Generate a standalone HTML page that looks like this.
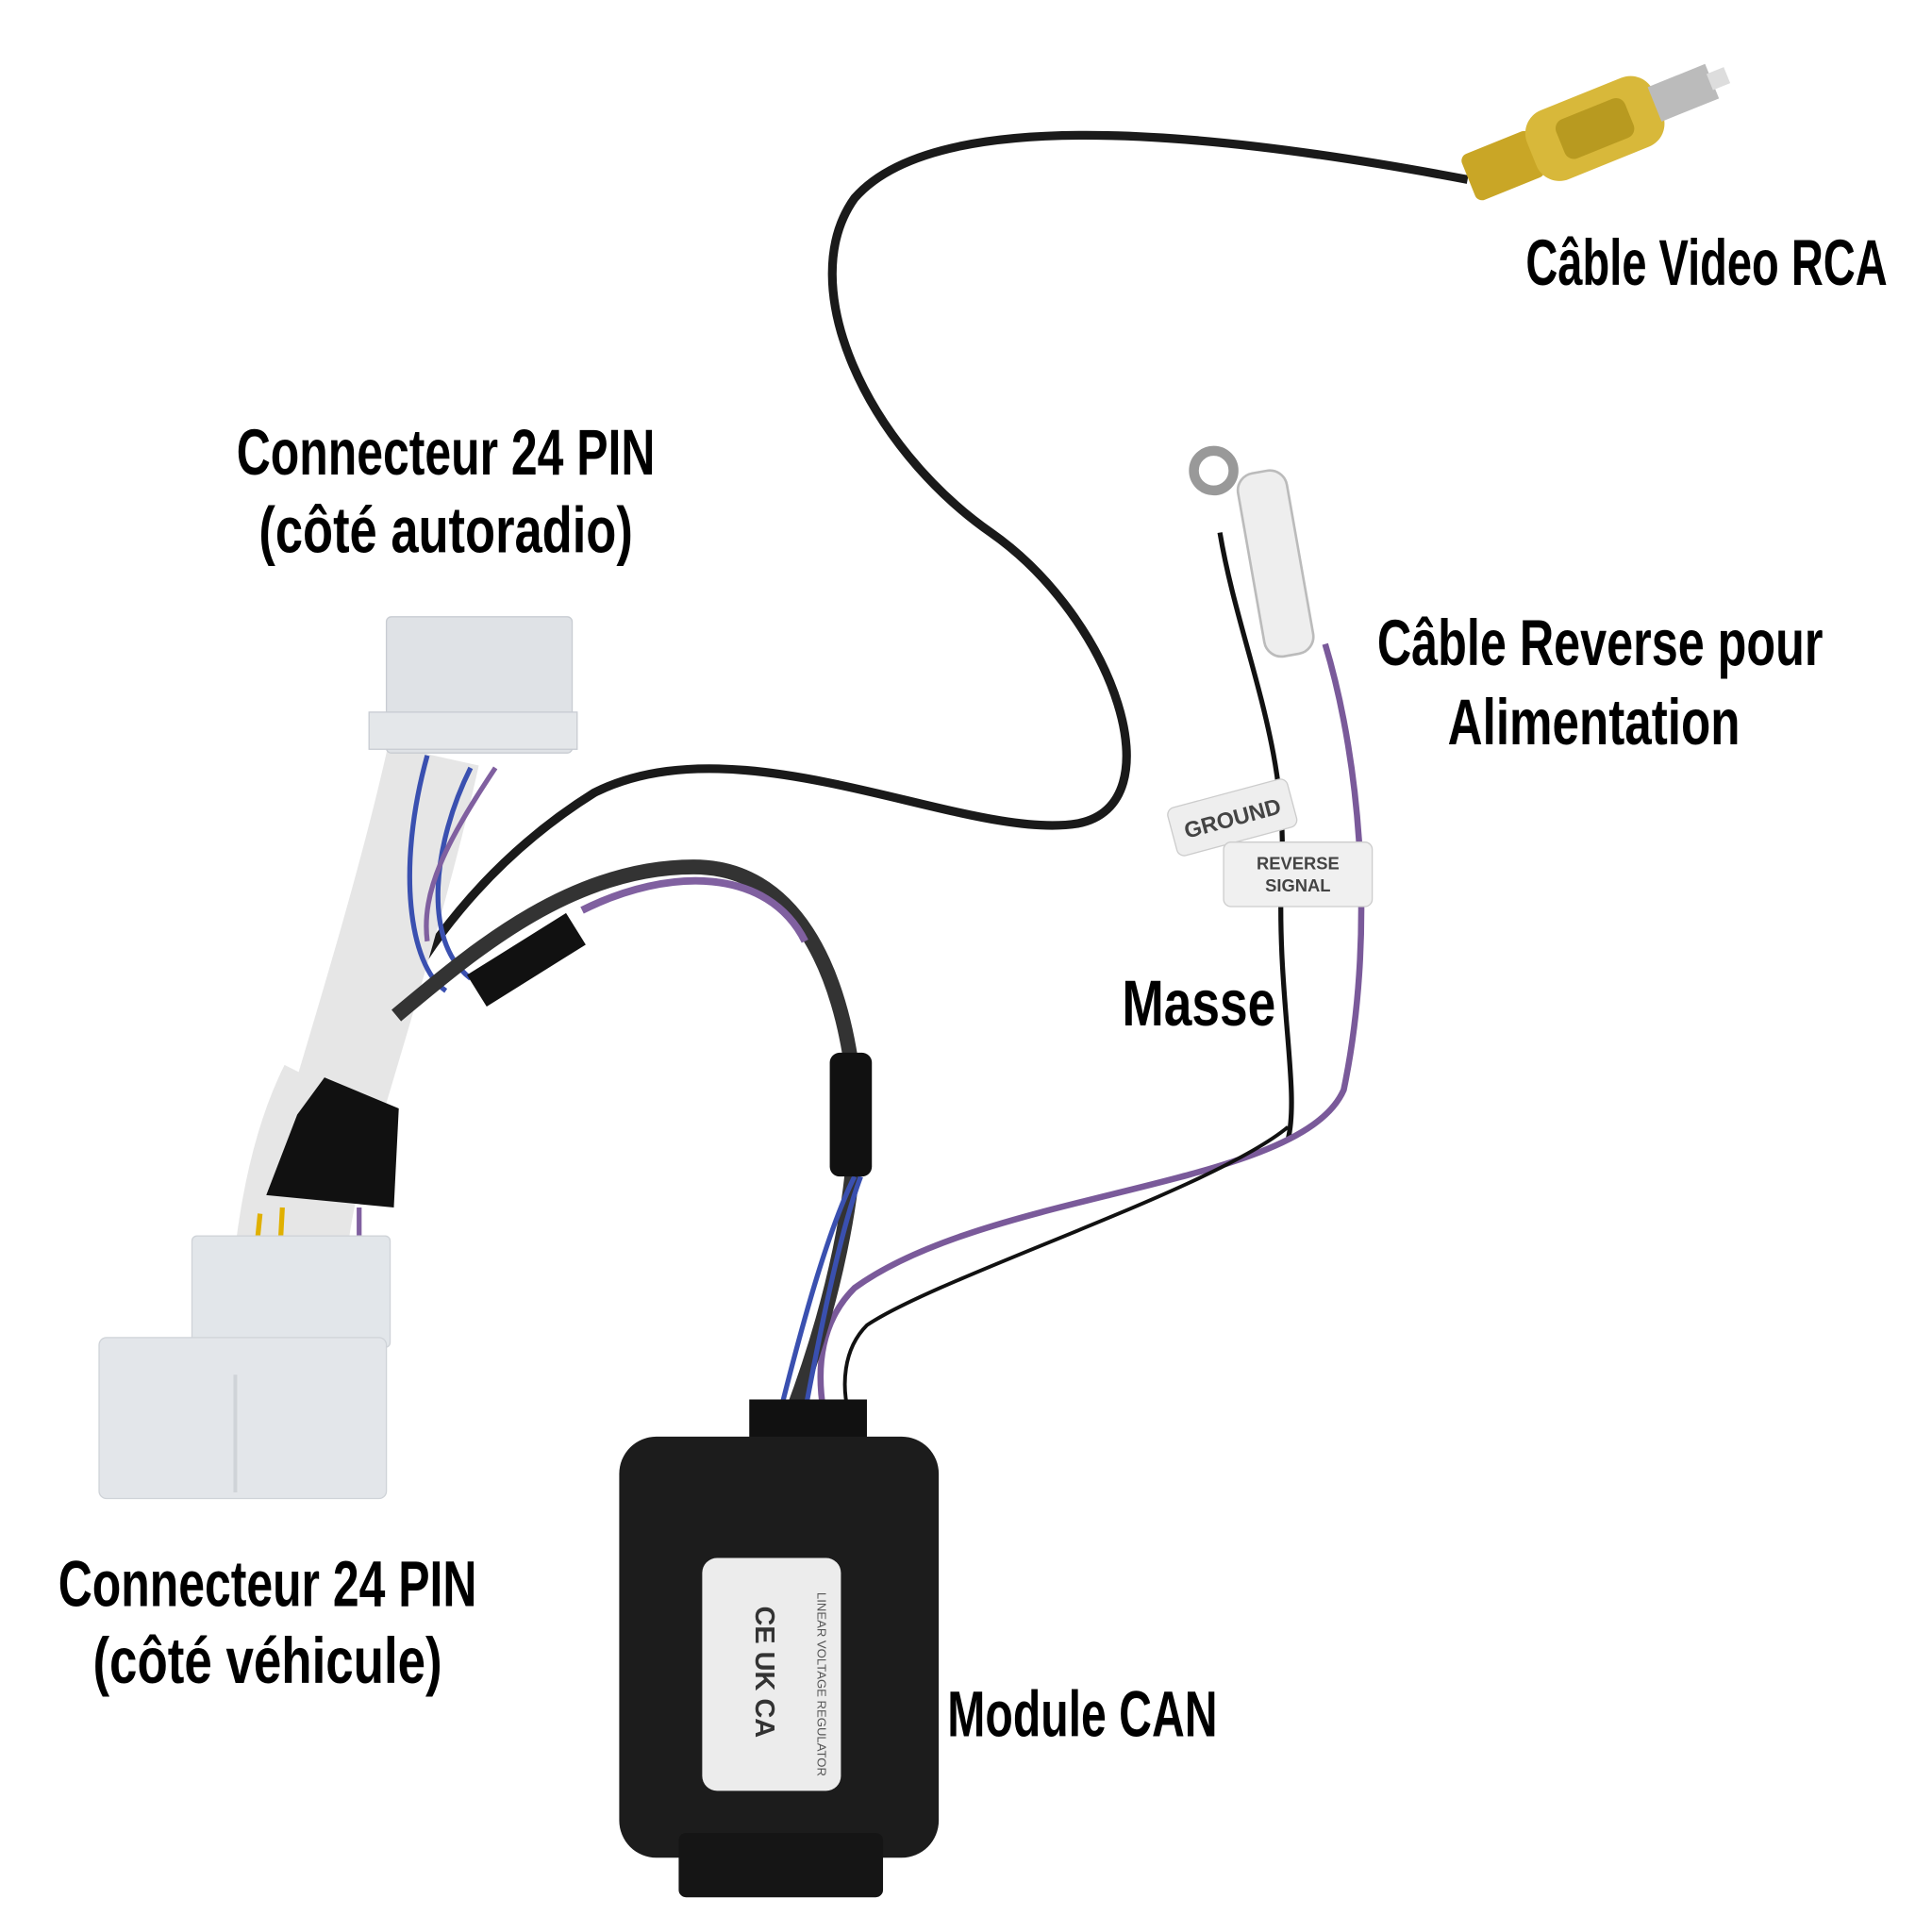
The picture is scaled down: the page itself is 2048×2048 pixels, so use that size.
<!DOCTYPE html>
<html><head><meta charset="utf-8"><style>
html,body{margin:0;padding:0;background:#fff}
svg{display:block}
.t{font-family:"Liberation Sans",sans-serif;font-weight:bold;font-size:52px;fill:#000;text-anchor:middle}
</style></head><body>
<svg width="2048" height="2048" viewBox="0 0 1560 1560" xmlns="http://www.w3.org/2000/svg">
<rect width="1560" height="1560" fill="#fff"/>
<path d="M1185 145 C1000 110 760 80 690 160 C640 230 700 360 800 430 C900 500 950 650 870 665 C780 680 600 580 480 640 C400 690 330 770 300 860" fill="none" stroke="#1a1a1a" stroke-width="7"/>
<g transform="rotate(-22 1260 115)">
<rect x="1180" y="95" width="60" height="40" rx="6" fill="#c9a626"/>
<rect x="1235" y="85" width="110" height="60" rx="20" fill="#d8b83a"/>
<rect x="1260" y="98" width="60" height="34" rx="8" fill="#b89a20"/>
<rect x="1342" y="100" width="50" height="30" fill="#bbb"/>
<rect x="1390" y="108" width="15" height="14" fill="#ddd"/>
</g>
<path d="M985 430 C1000 520 1040 600 1035 700 C1030 800 1050 880 1040 920" fill="none" stroke="#111" stroke-width="4"/>
<path d="M1070 520 C1100 620 1110 760 1085 880 C1050 960 800 960 690 1040 C660 1070 660 1110 665 1140" fill="none" stroke="#7a5a9a" stroke-width="5"/>
<path d="M1040 910 C980 960 760 1030 700 1070 C680 1090 680 1120 685 1140" fill="none" stroke="#111" stroke-width="3"/>
<circle cx="980" cy="380" r="16" fill="none" stroke="#999" stroke-width="8"/>
<rect x="1010" y="380" width="40" height="150" rx="14" fill="#eee" stroke="#bbb" stroke-width="2" transform="rotate(-10 1030 455)"/>
<g transform="rotate(-15 995 660)"><rect x="945" y="640" width="100" height="40" rx="6" fill="#eee" stroke="#ccc"/><text x="995" y="667" font-family="Liberation Sans" font-size="18" font-weight="bold" text-anchor="middle" fill="#444">GROUND</text></g>
<rect x="988" y="680" width="120" height="52" rx="6" fill="#f0f0f0" stroke="#ccc"/>
<text x="1048" y="702" font-family="Liberation Sans" font-size="14" font-weight="bold" text-anchor="middle" fill="#444">REVERSE</text>
<text x="1048" y="720" font-family="Liberation Sans" font-size="14" font-weight="bold" text-anchor="middle" fill="#444">SIGNAL</text>
<path d="M350 610 C330 700 300 800 270 900" fill="none" stroke="#e6e6e6" stroke-width="75"/>
<path d="M345 610 C320 700 330 780 360 800 M380 620 C350 680 340 760 380 790" fill="none" stroke="#3a50b0" stroke-width="4"/>
<path d="M400 620 C360 680 340 720 345 760" fill="none" stroke="#8060a0" stroke-width="4"/>
<path d="M270 880 C250 920 240 970 235 1010" fill="none" stroke="#e6e6e6" stroke-width="90"/>
<path d="M210 980 L205 1030 M228 975 L225 1030" stroke="#e0b000" stroke-width="4"/>
<path d="M290 975 L290 1030" stroke="#8060a0" stroke-width="4"/>
<path d="M320 820 C380 770 460 700 560 700 C640 700 680 780 690 880 C695 960 670 1060 640 1140" fill="none" stroke="#333" stroke-width="12"/>
<path d="M630 1140 C650 1060 670 990 690 950" fill="none" stroke="#3a50b0" stroke-width="4"/>
<path d="M650 1140 C665 1060 680 990 695 950" fill="none" stroke="#3a50b0" stroke-width="4"/>
<path d="M470 735 C540 700 620 700 650 760" fill="none" stroke="#8060a0" stroke-width="6"/>
<path d="M385 800 L465 750" stroke="#111" stroke-width="30"/>
<path d="M262 870 L322 895 L318 975 L215 965 L240 900 Z" fill="#111"/>
<rect x="670" y="850" width="34" height="100" rx="8" fill="#111"/>
<rect x="312" y="498" width="150" height="110" rx="4" fill="#dfe2e6" stroke="#c8ccd2"/>
<rect x="298" y="575" width="168" height="30" fill="#e4e7ea" stroke="#c8ccd2"/>
<rect x="155" y="998" width="160" height="90" rx="4" fill="#e2e6ea" stroke="#cfd3d8"/>
<rect x="80" y="1080" width="232" height="130" rx="6" fill="#e3e6ea" stroke="#cfd3d8"/>
<line x1="190" y1="1110" x2="190" y2="1205" stroke="#cfd3d8" stroke-width="3"/>
<rect x="605" y="1130" width="95" height="60" fill="#111"/>
<rect x="500" y="1160" width="258" height="340" rx="30" fill="#1c1c1c"/>
<rect x="548" y="1480" width="165" height="52" rx="6" fill="#151515"/>
<rect x="567" y="1258" width="112" height="188" rx="12" fill="#ececec"/>
<text x="610" y="1350" font-family="Liberation Sans" font-size="22" font-weight="bold" fill="#333" text-anchor="middle" transform="rotate(90 610 1350)">CE UK CA</text>
<text x="660" y="1360" font-family="Liberation Sans" font-size="10" fill="#555" text-anchor="middle" transform="rotate(90 660 1360)">LINEAR VOLTAGE REGULATOR</text>
<text class="t" x="1378" y="230" textLength="292" lengthAdjust="spacingAndGlyphs">Câble Video RCA</text>
<text class="t" x="360" y="383" textLength="338" lengthAdjust="spacingAndGlyphs">Connecteur 24 PIN</text>
<text class="t" x="360" y="446" textLength="302" lengthAdjust="spacingAndGlyphs">(côté autoradio)</text>
<text class="t" x="1292" y="537" textLength="360" lengthAdjust="spacingAndGlyphs">Câble Reverse pour</text>
<text class="t" x="1287" y="601" textLength="236" lengthAdjust="spacingAndGlyphs">Alimentation</text>
<text class="t" x="968" y="828" textLength="124" lengthAdjust="spacingAndGlyphs">Masse</text>
<text class="t" x="216" y="1297" textLength="338" lengthAdjust="spacingAndGlyphs">Connecteur 24 PIN</text>
<text class="t" x="216" y="1359" textLength="282" lengthAdjust="spacingAndGlyphs">(côté véhicule)</text>
<text class="t" x="874" y="1402" textLength="218" lengthAdjust="spacingAndGlyphs">Module CAN</text>
</svg>
</body></html>
